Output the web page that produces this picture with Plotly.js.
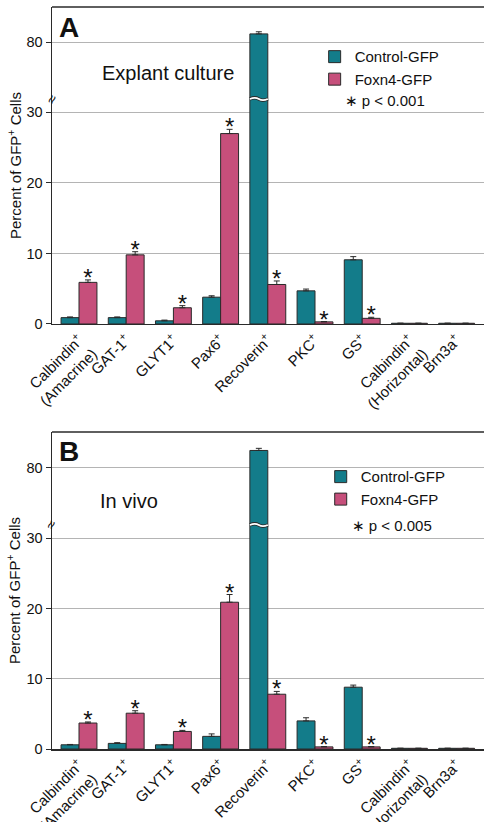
<!DOCTYPE html>
<html>
<head>
<meta charset="utf-8">
<script src="https://cdn.plot.ly/plotly-3.0.1.min.js"></script>
<style>html,body{margin:0;padding:0;background:#fff;}#chart{width:484px;height:822px;}</style>
</head>
<body>
<div id="chart"></div>
<script>
// ---- data ----
var categories = ["Calbindin<sup>+</sup><br>(Amacrine)", "GAT-1<sup>+</sup>", "GLYT1<sup>+</sup>", "Pax6<sup>+</sup>", "Recoverin<sup>+</sup>", "PKC<sup>+</sup>", "GS<sup>+</sup>", "Calbindin<sup>+</sup><br>(Horizontal)", "Brn3a<sup>+</sup>"];
var controlA = [0.9, 0.9, 0.45, 3.8, 81.2, 4.7, 9.1, 0.1, 0.1];
var controlAErr = [0.1, 0.1, 0.1, 0.2, 0.3, 0.25, 0.45, 0.0, 0.0];
var foxn4A = [5.9, 9.8, 2.3, 27.0, 5.6, 0.3, 0.8, 0.1, 0.1];
var foxn4AErr = [0.35, 0.45, 0.3, 0.6, 0.5, 0.05, 0.15, 0.0, 0.0];
var sigA = [1, 1, 1, 1, 1, 1, 1, 0, 0];

var controlB = [0.6, 0.8, 0.6, 1.8, 82.4, 4.0, 8.8, 0.1, 0.1];
var controlBErr = [0.05, 0.1, 0.05, 0.35, 0.3, 0.45, 0.3, 0.0, 0.0];
var foxn4B = [3.7, 5.1, 2.5, 20.9, 7.8, 0.3, 0.3, 0.1, 0.1];
var foxn4BErr = [0.15, 0.35, 0.15, 1.1, 0.4, 0.05, 0.05, 0.0, 0.0];
var sigB = [1, 1, 1, 1, 1, 1, 1, 0, 0];

var lowerTicks = [0, 10, 20, 30];
var upperTicks = [80];
var seriesNames = ["Control-GFP", "Foxn4-GFP"];
var pLabelA = "p < 0.001";
var pLabelB = "p < 0.005";

// ---- style ----
var TEAL = "#137c8a", PINK = "#c64f7b", EDGE = "#2a2a2a";
var FONT = "Liberation Sans, Arial, Helvetica, sans-serif";
var off = 0.19, bw = 0.38;
var idx = categories.map(function (_, i) { return i; });
var xCtrl = idx.map(function (i) { return i - off; });
var xFox = idx.map(function (i) { return i + off; });

function bar(x, y, err, color, name, xa, ya, legend, showlegend) {
  return {
    type: "bar", x: x, y: y, width: bw, name: name,
    xaxis: xa, yaxis: ya, legend: legend, showlegend: showlegend,
    marker: { color: color, line: { color: EDGE, width: 1 } },
    error_y: { type: "data", array: err, arrayminus: err.map(function () { return 0; }), symmetric: false, color: EDGE, thickness: 1, width: 3 },
    hoverinfo: "x+y"
  };
}
function stars(vals, errs, sig, xa, ya) {
  var xs = [], ys = [];
  for (var i = 0; i < vals.length; i++) if (sig[i]) { xs.push(xFox[i]); ys.push(vals[i] + errs[i]); }
  return { type: "scatter", mode: "text", x: xs, y: ys, text: xs.map(function () { return "*"; }),
    textposition: "middle center", textfont: { family: FONT, size: 24, color: "#111" },
    xaxis: xa, yaxis: ya, showlegend: false, hoverinfo: "skip", cliponaxis: false };
}

var data = [
  bar(xCtrl, controlA, controlAErr, TEAL, seriesNames[0], "x", "y", "legend", true),
  bar(xFox, foxn4A, foxn4AErr, PINK, seriesNames[1], "x", "y", "legend", true),
  bar(xCtrl, controlA, controlAErr, TEAL, seriesNames[0], "x", "y2", "legend", false),
  stars(foxn4A, foxn4AErr, sigA, "x", "y"),
  bar(xCtrl, controlB, controlBErr, TEAL, seriesNames[0], "x2", "y3", "legend2", true),
  bar(xFox, foxn4B, foxn4BErr, PINK, seriesNames[1], "x2", "y3", "legend2", true),
  bar(xCtrl, controlB, controlBErr, TEAL, seriesNames[0], "x2", "y4", "legend2", false),
  stars(foxn4B, foxn4BErr, sigB, "x2", "y3")
];

var tickFont = { family: FONT, size: 14.5, color: "#111" };
function xax(anchor) {
  return { anchor: anchor, range: [-0.572, 8.58], tickvals: idx, ticktext: categories, tickangle: -45,
    showline: true, linecolor: EDGE, linewidth: 1.5, ticks: "", showgrid: false, zeroline: false,
    tickfont: { family: FONT, size: 15, color: "#111" }, fixedrange: true };
}
function yax(domain, range, ticks, anchor) {
  return { domain: domain, range: range, tickvals: ticks, anchor: anchor, showline: true, linecolor: EDGE, linewidth: 1.5,
    ticks: "outside", ticklen: 5, tickcolor: EDGE, showgrid: true, gridcolor: "#b4b4b4", gridwidth: 1,
    zeroline: false, tickfont: tickFont, fixedrange: true };
}

var brkA = 0.876, topA = 1, botA = 0.5728;
var brkB = 0.3019, topB = 0.4272;

// wavy break across the Recoverin control bar
function wave(ybrk, xa) {
  var c = 4 - off, x0 = c - bw / 2, x1 = c + bw / 2, h = 0.0011;
  var p = "M" + x0 + "," + ybrk + " C" + (x0 + bw * 0.2) + "," + (ybrk + h * 2) + " " + (x0 + bw * 0.35) + "," + (ybrk + h * 2) + " " + c + "," + ybrk +
    " S" + (x1 - bw * 0.2) + "," + (ybrk - h * 2) + " " + x1 + "," + ybrk;
  return [
    { type: "path", xref: xa, yref: "paper", path: p, line: { color: EDGE, width: 3.5 } },
    { type: "path", xref: xa, yref: "paper", path: p, line: { color: "#ffffff", width: 1.8 } }
  ];
}

var shapes = [
  { type: "line", xref: "paper", yref: "paper", x0: 0, x1: 1, y0: topA, y1: topA, line: { color: EDGE, width: 1.5 } },
  { type: "line", xref: "paper", yref: "paper", x0: 0, x1: 1, y0: topB, y1: topB, line: { color: EDGE, width: 1.5 } }
].concat(wave(brkA, "x")).concat(wave(brkB, "x2"));

function ann(text, x, y, size, opts) {
  var a = { text: text, x: x, y: y, xref: "paper", yref: "paper", showarrow: false, xanchor: "left", yanchor: "middle",
    font: { family: FONT, size: size, color: "#111" } };
  for (var k in opts) a[k] = opts[k];
  return a;
}
var star = '<span style="font-family:DejaVu Sans">∗</span> ';
var yTitle = "Percent of GFP<sup>+</sup> Cells";
var annotations = [
  ann("<b>A</b>", 0.012, 0.972, 28, {}),
  ann("Explant culture", 0.111, 0.911, 20, {}),
  ann(star + pLabelA, 0.674, 0.873, 15, {}),
  ann(yTitle, -0.088, 0.787, 15, { textangle: -90, xanchor: "center" }),
  ann("≈", -0.002, brkA, 15, { textangle: -65, xanchor: "center" }),
  ann("<b>B</b>", 0.012, 0.401, 28, {}),
  ann("In vivo", 0.106, 0.3342, 20, {}),
  ann(star + pLabelB, 0.690, 0.3005, 15, {}),
  ann(yTitle, -0.088, 0.2143, 15, { textangle: -90, xanchor: "center" }),
  ann("≈", -0.002, brkB, 15, { textangle: -65, xanchor: "center" })
];

var legendBase = { bgcolor: "rgba(0,0,0,0)", font: { family: FONT, size: 15, color: "#111" }, itemwidth: 30,
  xanchor: "left", yanchor: "top", tracegroupgap: 0 };
var layout = {
  width: 484, height: 822,
  margin: { l: 52, r: 0, t: 7, b: 73 },
  paper_bgcolor: "#fff", plot_bgcolor: "#fff",
  barmode: "overlay", bargap: 0,
  xaxis: xax("y"),
  xaxis2: xax("y3"),
  yaxis: yax([botA, brkA], [0, 31.9], lowerTicks, "x"),
  yaxis2: yax([brkA, topA], [72, 85], upperTicks, "x"),
  yaxis3: yax([0, brkB], [0, 31.9], lowerTicks, "x2"),
  yaxis4: yax([brkB, topB], [71.9, 85], upperTicks, "x2"),
  legend: Object.assign({}, legendBase, { x: 0.608, y: 0.955 }),
  legend2: Object.assign({}, legendBase, { x: 0.622, y: 0.389 }),
  shapes: shapes,
  annotations: annotations,
  showlegend: true
};

Plotly.newPlot("chart", data, layout, { displayModeBar: false, staticPlot: true });
</script>
</body>
</html>
